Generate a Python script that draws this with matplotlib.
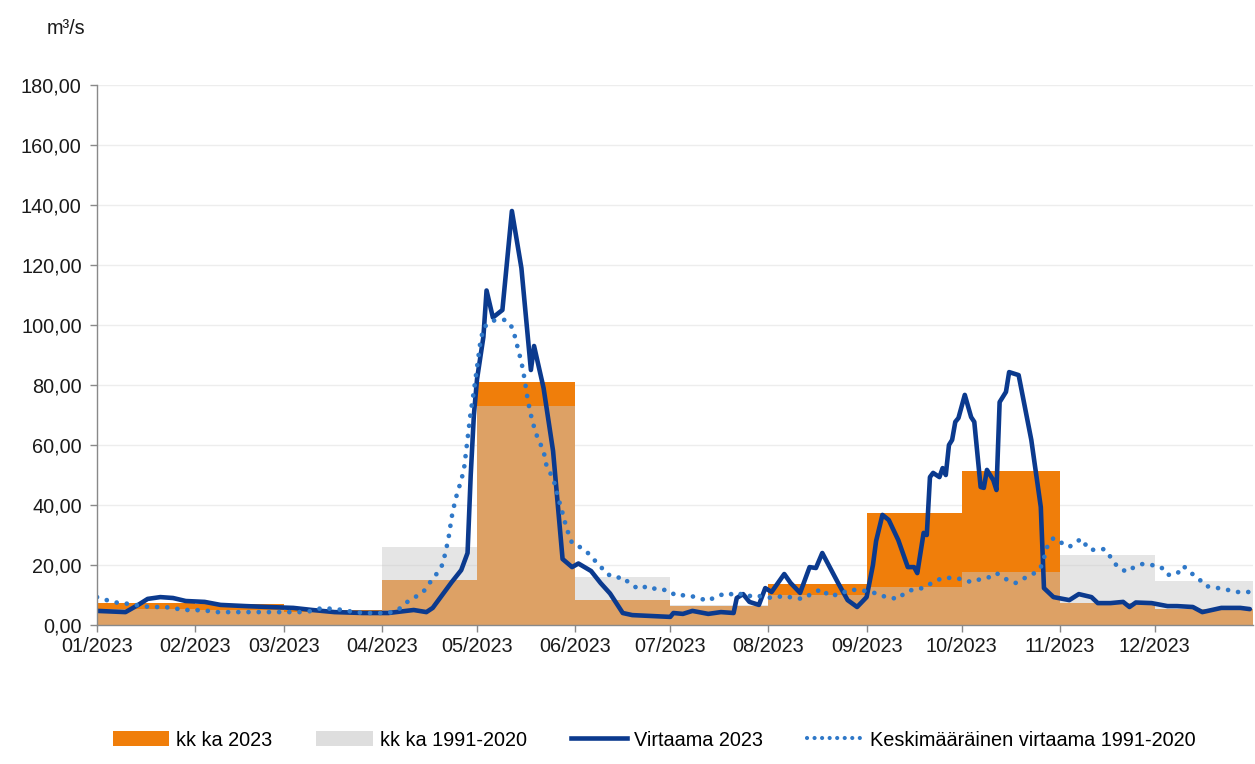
import numpy as np
import matplotlib
matplotlib.use("Agg")
import matplotlib.pyplot as plt
import matplotlib.dates as mdates
from matplotlib.ticker import FuncFormatter
from matplotlib.patches import Patch
from matplotlib.lines import Line2D

# ---------------- data ----------------
month_labels = ["01/2023", "02/2023", "03/2023", "04/2023", "05/2023", "06/2023",
                "07/2023", "08/2023", "09/2023", "10/2023", "11/2023", "12/2023"]
monthly_2023 = [7.3, 7.0, 5.0, 15.0, 81.0, 8.5, 6.5, 13.7, 37.4, 51.2, 7.5, 5.5]
monthly_1991_2020 = [5.5, 5.0, 4.5, 26.0, 73.0, 16.0, 6.7, 10.0, 12.6, 17.6, 23.2, 14.6]

flow_days = [0, 9, 13, 16, 20, 24, 28, 34, 39, 47, 54, 62, 68, 75, 84, 92, 96, 100, 104, 106,
             109, 112, 115, 117, 118, 119, 120, 122, 123, 125, 128, 131, 134, 137, 138, 141,
             144, 147, 150, 152, 156, 159, 162, 166, 169, 175, 181, 182, 185, 188, 193, 197,
             201, 202, 204, 206, 209, 211, 213, 217, 219, 222, 225, 227, 229, 231, 234, 237,
             240, 243, 245, 246, 248, 250, 253, 256, 258, 259, 261, 262, 263, 264, 266, 267,
             268, 269, 270, 271, 272, 274, 276, 277, 279, 280, 281, 283, 284, 285, 287, 288,
             291, 295, 298, 299, 302, 307, 310, 314, 316, 320, 324, 326, 328, 333, 338, 341,
             346, 349, 355, 361, 364]
flow_2023 = [4.7, 4.3, 6.7, 8.7, 9.3, 9.0, 8.0, 7.7, 6.7, 6.3, 6.0, 5.7, 5.0, 4.3, 4.0, 4.0, 4.5,
             5.0, 4.3, 5.7, 10.0, 14.3, 18.3, 24.0, 50.0, 70.0, 82.0, 96.0, 111.5, 102.5, 105.0,
             138.0, 119.0, 85.0, 93.0, 79.0, 58.0, 22.0, 19.3, 20.5, 18.0, 14.0, 10.5, 4.0, 3.3,
             3.0, 2.7, 4.0, 3.7, 4.7, 3.7, 4.3, 4.0, 9.0, 10.3, 7.7, 6.7, 12.3, 11.0, 17.0, 14.0,
             10.7, 19.3, 19.0, 24.0, 20.0, 14.0, 8.3, 6.0, 9.3, 20.0, 28.0, 36.7, 35.0, 28.3,
             19.3, 19.3, 17.3, 30.7, 30.0, 49.3, 50.7, 49.3, 52.3, 50.0, 60.0, 61.7, 67.7, 69.0,
             76.7, 69.3, 67.7, 46.0, 45.7, 51.7, 48.3, 45.0, 74.3, 77.7, 84.3, 83.3, 61.7, 39.3,
             12.3, 9.3, 8.3, 10.3, 9.3, 7.3, 7.3, 7.7, 6.0, 7.5, 7.3, 6.3, 6.3, 6.0, 4.3, 5.7,
             5.7, 5.3]

mean_days = [0, 4, 7, 11, 14, 17, 21, 24, 27, 31, 35, 38, 65, 68, 71, 75, 78, 81, 85, 92, 95, 98,
             100, 103, 105, 107, 109, 110, 111, 112, 113, 114, 115, 116, 117, 118, 119, 120, 121,
             122, 124, 126, 129, 131, 132, 133, 134, 135, 136, 137, 138, 139, 141, 142, 144, 145,
             146, 147, 148, 149, 150, 153, 155, 157, 159, 161, 164, 166, 168, 171, 174, 177, 180,
             183, 186, 189, 193, 195, 199, 202, 204, 207, 210, 213, 217, 220, 223, 226, 229, 231,
             235, 237, 240, 243, 247, 249, 253, 255, 258, 261, 264, 267, 270, 273, 276, 279, 282,
             284, 287, 290, 293, 296, 298, 299, 300, 302, 304, 307, 309, 311, 313, 315, 318, 320,
             322, 325, 327, 330, 333, 336, 338, 341, 343, 345, 348, 350, 354, 357, 360, 364]
mean_1991_2020 = [9.3, 8.0, 7.3, 7.0, 6.3, 6.0, 6.0, 5.7, 5.0, 5.0, 4.7, 4.3, 4.3, 4.7, 5.7, 5.3,
                  5.0, 4.3, 4.0, 4.0, 5.0, 7.7, 9.0, 11.0, 14.0, 16.7, 20.0, 24.0, 29.0, 36.0,
                  41.0, 45.0, 48.0, 53.0, 62.0, 71.0, 78.0, 86.0, 94.0, 99.0, 101.0, 101.7, 101.7,
                  99.3, 96.0, 91.7, 87.7, 82.0, 75.0, 70.0, 66.0, 62.7, 58.0, 52.7, 49.0, 45.0,
                  41.0, 37.3, 33.3, 30.0, 27.3, 25.7, 24.0, 21.7, 19.5, 17.0, 15.7, 16.0, 14.0,
                  12.0, 13.0, 11.7, 11.7, 9.7, 10.0, 9.3, 8.0, 9.3, 10.7, 9.7, 10.7, 9.3, 9.7, 9.0,
                  9.7, 9.0, 8.7, 10.7, 12.0, 9.7, 10.3, 11.7, 11.7, 11.3, 10.3, 9.3, 8.7, 10.7,
                  12.0, 12.3, 14.3, 15.7, 15.7, 15.3, 14.3, 15.3, 16.0, 17.3, 15.3, 14.0, 15.7,
                  17.3, 19.3, 22.3, 26.0, 29.0, 27.7, 26.0, 27.7, 28.7, 25.3, 25.0, 25.3, 22.7,
                  19.7, 17.7, 19.0, 20.3, 20.0, 19.3, 16.7, 17.0, 19.7, 17.7, 15.3, 13.0, 12.3,
                  11.7, 11.0, 11.0]

legend_labels = ["kk ka 2023", "kk ka 1991-2020", "Virtaama 2023",
                 "Keskimääräinen virtaama 1991-2020"]

# ---------------- style ----------------
plt.rcParams["font.family"] = ["Liberation Sans", "DejaVu Sans"]
ORANGE = "#F07E0A"
GRAY = "#C9C9C9"
DARK = "#0B3A8E"
DOT = "#2F78C8"
AXC = "#898989"
LW = 3.3

W, H = 1255, 764
fig = plt.figure(figsize=(W / 100, H / 100), dpi=100)
ax = fig.add_axes([97 / W, 1 - 625 / H, (1253 - 97) / W, (625 - 85) / H])

base = mdates.date2num(np.datetime64("2023-01-01"))
edges = mdates.date2num(np.arange("2023-01", "2024-02", dtype="datetime64[M]").astype("datetime64[D]"))
left = edges[:-1]
widths = np.diff(edges)

ax.bar(left, monthly_2023, width=widths, align="edge", color=ORANGE, lw=0, zorder=1)
ax.bar(left, monthly_1991_2020, width=widths, align="edge", color=GRAY, alpha=0.48, lw=0, zorder=2)

ax.plot(base + np.array(flow_days), flow_2023, color=DARK, lw=LW,
        solid_joinstyle="round", solid_capstyle="round", zorder=3)
ax.plot(base + np.array(mean_days), mean_1991_2020, color=DOT, lw=3.4,
        linestyle=(0, (0.01, 2.15)), dash_capstyle="round", zorder=4)

ax.set_xlim(edges[0], edges[-1])
ax.set_ylim(0, 180)
ax.set_yticks(np.arange(0, 181, 20))
ax.yaxis.set_major_formatter(FuncFormatter(lambda v, p: f"{v:.2f}".replace(".", ",")))
ax.set_xticks(left)
ax.set_xticklabels(month_labels)

for s in ["top", "right"]:
    ax.spines[s].set_visible(False)
for s in ["left", "bottom"]:
    ax.spines[s].set_color(AXC)
    ax.spines[s].set_linewidth(1.0)
    ax.spines[s].set_zorder(5)
ax.tick_params(axis="both", direction="out", length=5, width=1, color=AXC,
               labelsize=14.3, labelcolor="#1a1a1a")
ax.tick_params(axis="y", pad=6)
ax.tick_params(axis="x", pad=4)
ax.yaxis.grid(True, color="#EDEDED", lw=1)
ax.set_axisbelow(True)

fig.text(66 / W, 1 - 28 / H, "m³/s", fontsize=14.3, ha="center", va="center", color="#1a1a1a")

handles = [Patch(facecolor=ORANGE, edgecolor="none"),
           Patch(facecolor="#DEDEDE", edgecolor="none"),
           Line2D([0], [0], color=DARK, lw=LW),
           Line2D([0], [0], color=DOT, lw=3.0, linestyle=(0, (0.01, 1.8)), dash_capstyle="round")]
fig.legend(handles, legend_labels, loc="center", bbox_to_anchor=(0.5215, 1 - 740 / H), ncol=4,
           frameon=False, fontsize=14.3, handlelength=2.85, handleheight=0.75,
           handletextpad=0.35, columnspacing=2.2)

fig.savefig("out.png", dpi=100)
